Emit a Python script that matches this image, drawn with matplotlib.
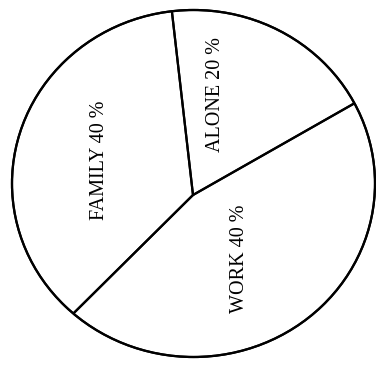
import matplotlib
matplotlib.use("Agg")
import matplotlib.pyplot as plt
from matplotlib.patches import Ellipse

# slices as drawn (share of the circle), and the labels written on them
labels = ["ALONE", "FAMILY", "WORK"]
pct_labels = ["20 %", "40 %", "40 %"]
shares = [18.6, 35.6, 45.8]

fig = plt.figure(figsize=(3.76, 3.70), dpi=100)
ax = fig.add_axes([0, 0, 1, 1])

# outline of the (slightly squashed) circle
outline = Ellipse((193.5, 186.5), 363, 347, facecolor="white",
                  edgecolor="black", linewidth=1.6, zorder=1)
ax.add_patch(outline)

wedges, _ = ax.pie(shares, center=(193, 175), radius=400, startangle=29.6,
                   counterclock=True, frame=True,
                   wedgeprops=dict(facecolor="none", edgecolor="black",
                                   linewidth=1.6))
for w in wedges:
    w.set_clip_on(True)
    w.set_clip_path(outline)
    w.set_zorder(2)

outline_top = Ellipse((193.5, 186.5), 363, 347, facecolor="none",
                      edgecolor="black", linewidth=1.6, zorder=3)
ax.add_patch(outline_top)

# label positions (pixels, y up)
label_pos = [(216, 275), (100, 210), (240, 111)]
for name, pct, (x, y) in zip(labels, pct_labels, label_pos):
    ax.text(x, y, f"{name} {pct}", rotation=90, ha="center", va="center",
            family="Liberation Serif", fontsize=14.5, zorder=4)

ax.set_xlim(0, 376)
ax.set_ylim(0, 370)
ax.set_aspect("auto")
ax.axis("off")

fig.savefig("out.png", dpi=100)
